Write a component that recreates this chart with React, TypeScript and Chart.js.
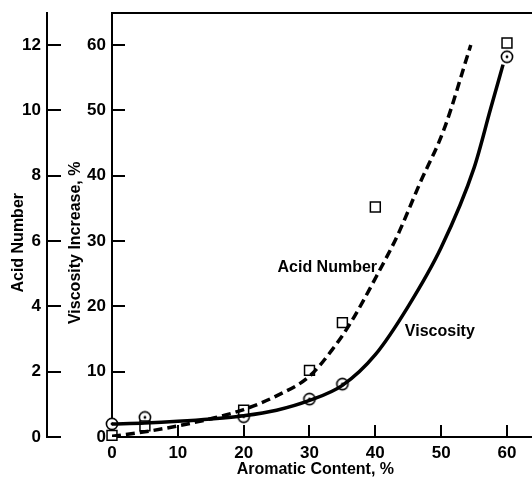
import { useEffect, useRef } from "react";
import { Chart, registerables } from "chart.js";

Chart.register(...registerables);

// ---- data ----
const aromaticTickStep = 10;
const viscosityTickStep = 10;
const acidTickStep = 2;

// Measured viscosity increase (%) – circle-dot markers
const viscosityX = [0, 5, 20, 30, 35, 60];
const viscosityY = [2.0, 3.0, 3.1, 5.8, 8.1, 58.2];

// Measured acid number – square markers
const acidX = [0, 5, 20, 30, 35, 40, 60];
const acidY = [0.05, 0.34, 0.82, 2.04, 3.5, 7.04, 12.06];

// Fitted viscosity curve (solid), viscosity-% units
const viscCurveX = [0, 5, 10, 15, 20, 25, 30, 35, 40, 45, 50, 55, 57.5, 59.4];
const viscCurveY = [2.0, 2.15, 2.4, 2.75, 3.25, 4.1, 5.6, 7.9, 12.6, 20.0, 29.0, 41.2, 50.2, 57.0];

// Fitted acid number curve (dashed), acid-number units
const acidCurveX = [0, 5, 10, 15, 20, 25, 30, 33.4, 36.2, 40.7, 43.3, 46.8, 50.4, 54.5];
const acidCurveY = [0.02, 0.16, 0.34, 0.56, 0.84, 1.26, 1.86, 2.66, 3.48, 5.12, 6.14, 7.78, 9.4, 12.0];

// In-plot labels (x in %, y in viscosity-% units)
const labelTexts = ["Acid Number", "Viscosity"];
const labelX = [32.7, 49.8];
const labelY = [26.0, 16.2];

const FAMILY = "'Liberation Sans', Arial, sans-serif";
const TEXT_SIZE = 16;
const TICK_SIZE = 17;

const pts = (xs: number[], ys: number[]) => xs.map((x, i) => ({ x, y: ys[i] }));

export default function App() {
  const ref = useRef<HTMLCanvasElement>(null);

  useEffect(() => {
    const marker = document.createElement("canvas");
    marker.width = 16;
    marker.height = 16;
    const mc = marker.getContext("2d")!;
    mc.fillStyle = "#fff";
    mc.strokeStyle = "#000";
    mc.lineWidth = 1.6;
    mc.beginPath();
    mc.arc(8, 8, 5.6, 0, Math.PI * 2);
    mc.fill();
    mc.stroke();
    mc.fillStyle = "#000";
    mc.beginPath();
    mc.arc(8, 8, 1.4, 0, Math.PI * 2);
    mc.fill();

    const framePlugin = {
      id: "framePlugin",
      afterDraw(chart: any) {
        const { ctx, chartArea, scales } = chart;
        ctx.save();
        ctx.strokeStyle = "#000";
        ctx.lineWidth = 2;
        ctx.beginPath();
        ctx.moveTo(chartArea.left - 1, chartArea.top);
        ctx.lineTo(chartArea.right, chartArea.top);
        ctx.stroke();
        ctx.fillStyle = "#000";
        ctx.font = `bold ${TEXT_SIZE}px ${FAMILY}`;
        ctx.textAlign = "center";
        ctx.textBaseline = "middle";
        labelTexts.forEach((t, i) => {
          ctx.fillText(t, scales.x.getPixelForValue(labelX[i]), scales.yVisc.getPixelForValue(labelY[i]));
        });
        ctx.restore();
      },
    };

    const tickFont = { family: FAMILY, size: TICK_SIZE, weight: "bold" as const };
    const titleFont = { family: FAMILY, size: TEXT_SIZE, weight: "bold" as const };
    const noPad = (s: any) => {
      s.paddingTop = 0;
      s.paddingBottom = 0;
      s.paddingLeft = 0;
      s.paddingRight = 0;
    };

    const chart = new Chart(ref.current!, {
      type: "line",
      data: {
        datasets: [
          {
            label: "Acid Number fit",
            data: pts(acidCurveX, acidCurveY),
            yAxisID: "yAcid",
            borderColor: "#000",
            borderWidth: 3.5,
            borderDash: [9, 5],
            pointRadius: 0,
            cubicInterpolationMode: "monotone",
            fill: false,
          },
          {
            label: "Viscosity fit",
            data: pts(viscCurveX, viscCurveY),
            yAxisID: "yVisc",
            borderColor: "#000",
            borderWidth: 3.5,
            pointRadius: 0,
            cubicInterpolationMode: "monotone",
            fill: false,
          },
          {
            label: "Acid Number",
            data: pts(acidX, acidY),
            yAxisID: "yAcid",
            showLine: false,
            pointStyle: "rect",
            pointRadius: 7,
            pointBorderWidth: 1.5,
            pointBorderColor: "#000",
            pointBackgroundColor: "#fff",
            clip: false,
          } as any,
          {
            label: "Viscosity",
            data: pts(viscosityX, viscosityY),
            yAxisID: "yVisc",
            showLine: false,
            pointStyle: marker,
            pointRadius: 7,
            clip: false,
          } as any,
        ],
      },
      options: {
        responsive: false,
        animation: false,
        layout: { autoPadding: false, padding: { top: 13, left: 0, right: 0, bottom: 0 } },
        plugins: { legend: { display: false }, tooltip: { enabled: false } },
        scales: {
          x: {
            type: "linear",
            position: "bottom",
            min: 0,
            max: 63.8,
            border: { color: "#000", width: 2 },
            grid: { drawOnChartArea: false, drawTicks: true, tickLength: -12, color: "#000", lineWidth: 2 },
            ticks: {
              stepSize: aromaticTickStep,
              includeBounds: false,
              padding: 18,
              color: "#000",
              font: tickFont,
              maxRotation: 0,
              autoSkip: false,
            },
            title: {
              display: true,
              text: "Aromatic Content, %   ",
              color: "#000",
              font: { ...titleFont, lineHeight: 1 },
              padding: { top: 0, bottom: 0 },
            },
            afterFit: (s: any) => {
              s.height = 41;
              noPad(s);
            },
          },
          yVisc: {
            type: "linear",
            position: "left",
            weight: 0,
            min: 0,
            max: 64.9,
            border: { color: "#000", width: 2 },
            grid: { drawOnChartArea: false, drawTicks: true, tickLength: -13, color: "#000", lineWidth: 2 },
            ticks: {
              stepSize: viscosityTickStep,
              includeBounds: false,
              padding: 19,
              color: "#000",
              font: tickFont,
            },
            title: {
              display: true,
              text: "Viscosity Increase, %        ",
              color: "#000",
              font: titleFont,
              padding: { top: 19, bottom: 0 },
            },
            afterFit: (s: any) => {
              s.width = 65;
              noPad(s);
            },
          },
          yAcid: {
            type: "linear",
            position: "left",
            weight: 1,
            min: 0,
            max: 12.98,
            border: { color: "#000", width: 2 },
            grid: { drawOnChartArea: false, drawTicks: true, tickLength: -14, color: "#000", lineWidth: 2 },
            ticks: {
              stepSize: acidTickStep,
              includeBounds: false,
              padding: 20,
              color: "#000",
              font: tickFont,
            },
            title: {
              display: true,
              text: "Acid Number        ",
              color: "#000",
              font: titleFont,
              padding: { top: 9, bottom: 0 },
            },
            afterFit: (s: any) => {
              s.width = 47;
              noPad(s);
            },
          },
        },
      } as any,
      plugins: [framePlugin],
    });

    return () => chart.destroy();
  }, []);

  return (
    <div style={{ position: "fixed", left: 0, top: 0, width: 532, height: 478, background: "#fff" }}>
      <canvas ref={ref} width={532} height={478} style={{ display: "block" }} />
    </div>
  );
}
